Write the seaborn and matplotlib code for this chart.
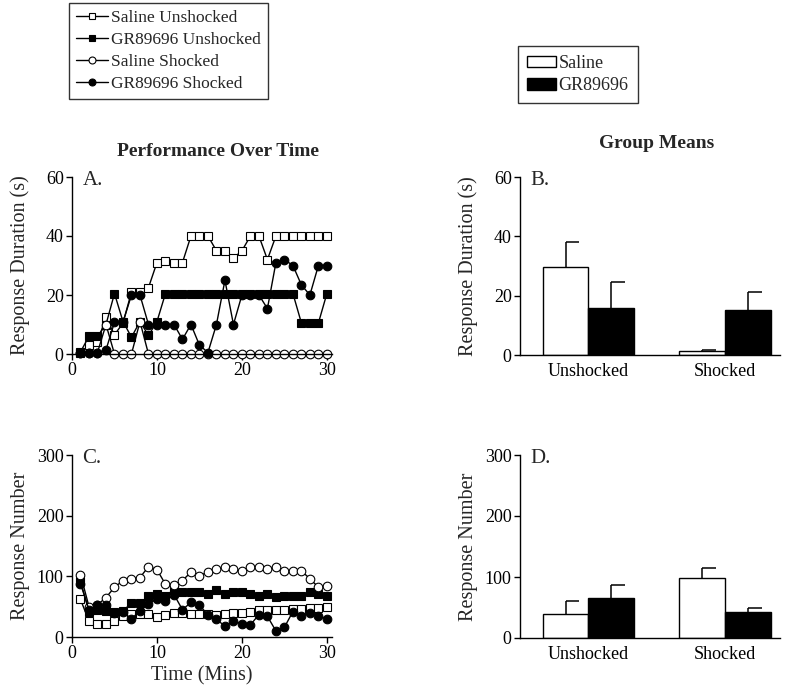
import numpy as np
import pandas as pd
import matplotlib
matplotlib.use("Agg")
import matplotlib.pyplot as plt
from matplotlib.lines import Line2D
from matplotlib.patches import Patch
import seaborn as sns

# ---------------- data ----------------
minutes = list(range(1, 31))

# Panel A: response duration (s) per minute
dur_saline_unshocked = [0.5, 3, 4, 12.5, 6.5, 10.5, 21, 21, 22.5, 31, 31.5, 31, 31, 40, 40, 40,
                        35, 35, 32.5, 35, 40, 40, 32, 40, 40, 40, 40, 40, 40, 40]
dur_gr_unshocked = [0.7, 6, 6, 10, 20.5, 11, 5.7, 11, 6.3, 11, 20.5, 20.5, 20.5, 20.5, 20.5, 20.5,
                    20.5, 20.5, 20.5, 20.5, 20.5, 20.5, 20.5, 20.5, 20.5, 20.5, 10.5, 10.5, 10.5, 20.5]
dur_saline_shocked = [0.5, 0.5, 0.5, 10, 0, 0, 0, 11, 0, 0, 0, 0, 0, 0, 0, 0,
                      0, 0, 0, 0, 0, 0, 0, 0, 0, 0, 0, 0, 0, 0]
dur_gr_shocked = [0.5, 0.5, 0.5, 1.4, 10.8, 10.8, 20, 20, 10, 10, 10, 10, 5, 10, 3, 0.5,
                  10, 25, 10, 20, 20, 20, 15.4, 31, 32, 30, 23.4, 20, 30, 30]

# Panel C: response number per minute
num_saline_unshocked = [62, 26, 22, 22, 27, 34, 38, 38, 38, 33, 37, 40, 40, 38, 38, 38,
                        37, 38, 40, 40, 42, 44, 44, 44, 45, 46, 46, 48, 48, 49]
num_gr_unshocked = [92, 42, 45, 43, 41, 43, 56, 56, 67, 71, 68, 78, 75, 75, 75, 71,
                    77, 71, 74, 75, 71, 67, 71, 66, 68, 68, 68, 74, 71, 67]
num_saline_shocked = [103, 50, 53, 65, 82, 93, 95, 98, 116, 111, 87, 85, 93, 107, 101, 107,
                      112, 115, 112, 108, 115, 116, 112, 115, 108, 108, 109, 96, 82, 84]
num_gr_shocked = [88, 45, 52, 52, 40, 41, 30, 43, 55, 63, 59, 70, 45, 57, 52, 37,
                  29, 18, 26, 22, 20, 37, 34, 10, 16, 42, 35, 40, 35, 30]

# Panels B and D: group means (+ SEM)
conditions = ["Unshocked", "Shocked"]
drugs = ["Saline", "GR89696"]
dur_mean_saline = [29.5, 1.2]
dur_err_saline = [8.5, 0.6]
dur_mean_gr = [15.7, 15.2]
dur_err_gr = [9.0, 6.0]
num_mean_saline = [39, 98]
num_err_saline = [21, 17]
num_mean_gr = [66, 42]
num_err_gr = [21, 8]

series_labels = ["Saline Unshocked", "GR89696 Unshocked", "Saline Shocked", "GR89696 Shocked"]

# ---------------- style ----------------
sns.set_style("ticks")
plt.rcParams["font.family"] = ["Liberation Serif", "DejaVu Serif"]
plt.rcParams["axes.linewidth"] = 1.0
plt.rcParams["xtick.major.width"] = 1.0
plt.rcParams["ytick.major.width"] = 1.0
plt.rcParams["xtick.major.size"] = 4
plt.rcParams["ytick.major.size"] = 4
plt.rcParams["xtick.color"] = "black"
plt.rcParams["ytick.color"] = "black"
plt.rcParams["axes.edgecolor"] = "black"

W, H = 800, 691
fig = plt.figure(figsize=(W / 100, H / 100), dpi=100)

def box(l, t, r, b):
    return [l / W, 1 - b / H, (r - l) / W, (b - t) / H]

axA = fig.add_axes(box(72, 177, 332, 354))
axB = fig.add_axes(box(520, 177, 780, 355))
axC = fig.add_axes(box(72, 455, 332, 637))
axD = fig.add_axes(box(520, 455, 780, 638))

styles = [
    dict(marker="s", markerfacecolor="white"),
    dict(marker="s", markerfacecolor="black"),
    dict(marker="o", markerfacecolor="white"),
    dict(marker="o", markerfacecolor="black"),
]

def line_panel(ax, series, ymax, yticks):
    for vals, st, lab in zip(series, styles, series_labels):
        sns.lineplot(x=minutes, y=vals, ax=ax, color="black", linewidth=1.0,
                     markersize=6.2, markeredgecolor="black", markeredgewidth=0.8,
                     estimator=None, clip_on=False, **st)
    ax.set_xlim(0, 30.6)
    ax.set_ylim(0, ymax)
    ax.set_xticks([0, 10, 20, 30])
    ax.set_yticks(yticks)
    sns.despine(ax=ax)
    ax.tick_params(labelsize=13, pad=2)

line_panel(axA, [dur_saline_unshocked, dur_gr_unshocked, dur_saline_shocked, dur_gr_shocked],
           60, [0, 20, 40, 60])
line_panel(axC, [num_saline_unshocked, num_gr_unshocked, num_saline_shocked, num_gr_shocked],
           300, [0, 100, 200, 300])

def bar_panel(ax, m_sal, e_sal, m_gr, e_gr, ymax, yticks):
    df = pd.DataFrame({
        "cond": conditions * 2,
        "drug": [drugs[0]] * 2 + [drugs[1]] * 2,
        "val": list(m_sal) + list(m_gr),
    })
    sns.barplot(data=df, x="cond", y="val", hue="drug", order=conditions, hue_order=drugs,
                palette={"Saline": "white", "GR89696": "black"}, edgecolor="black",
                linewidth=1.0, width=0.67, errorbar=None, legend=False, ax=ax, saturation=1)
    errs = [e_sal, e_gr]
    for cont, err in zip(ax.containers, errs):
        for patch, e in zip(cont.patches, err):
            xc = patch.get_x() + patch.get_width() / 2
            top = patch.get_height()
            ax.vlines(xc, top, top + e, color="black", lw=1.1, zorder=1)
            ax.hlines(top + e, xc, xc + 0.1, color="black", lw=1.1, zorder=1)
    ax.set_xlim(-0.5, 1.4)
    ax.set_ylim(0, ymax)
    ax.set_yticks(yticks)
    ax.set_xlabel("")
    sns.despine(ax=ax)
    ax.tick_params(labelsize=13, pad=2)
    ax.tick_params(axis="x", length=0, pad=6)

bar_panel(axB, dur_mean_saline, dur_err_saline, dur_mean_gr, dur_err_gr, 60, [0, 20, 40, 60])
bar_panel(axD, num_mean_saline, num_err_saline, num_mean_gr, num_err_gr, 300, [0, 100, 200, 300])

for ax, lab in [(axA, "Response Duration (s)"), (axB, "Response Duration (s)"),
                (axC, "Response Number"), (axD, "Response Number")]:
    ax.set_ylabel(lab, fontsize=14.5)
    ax.yaxis.set_label_coords(-0.16, 0.5)

axC.set_xlabel("Time (Mins)", fontsize=14.5, labelpad=3)
axA.set_xlabel("")

for ax, letter in [(axA, "A."), (axB, "B."), (axC, "C."), (axD, "D.")]:
    ax.text(0.04, 1.035, letter, transform=ax.transAxes, fontsize=15, va="top", ha="left")

fig.text(218 / W, 1 - 152 / H, "Performance Over Time", ha="center", va="center",
         fontsize=14, fontweight="bold")
fig.text(657 / W, 1 - 143 / H, "Group Means", ha="center", va="center",
         fontsize=14, fontweight="bold")

# legends
h1 = [Line2D([], [], color="black", lw=1.0, markersize=5, markeredgecolor="black",
             markeredgewidth=0.8, **st) for st in styles]
leg1 = fig.legend(h1, series_labels, loc="upper left", bbox_to_anchor=(69 / W, 1 - 3 / H),
                  fontsize=12.5, frameon=True, fancybox=False, edgecolor="black",
                  handlelength=1.8, handletextpad=0.2, labelspacing=0.33, borderpad=0.42,
                  borderaxespad=0)
leg1.get_frame().set_linewidth(1.0)

h2 = [Patch(facecolor="white", edgecolor="black", lw=1.0),
      Patch(facecolor="black", edgecolor="black", lw=1.0)]
leg2 = fig.legend(h2, drugs, loc="upper left", bbox_to_anchor=(518 / W, 1 - 46 / H),
                  fontsize=13, frameon=True, fancybox=False, edgecolor="black",
                  handlelength=1.6, handleheight=0.6, handletextpad=0.15,
                  labelspacing=0.3, borderpad=0.5, borderaxespad=0)
leg2.get_frame().set_linewidth(1.0)

fig.savefig("out.png", dpi=100, facecolor="white")
